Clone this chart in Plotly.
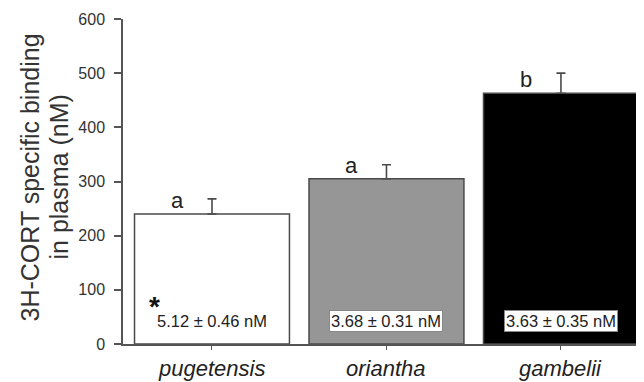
import plotly.graph_objects as go

categories = ["pugetensis", "oriantha", "gambelii"]
binding = [240, 305, 463]
binding_se = [28, 26, 37]
letters = ["a", "a", "b"]
kd_labels = ["5.12 \u00b1 0.46 nM", "3.68 \u00b1 0.31 nM", "3.63 \u00b1 0.35 nM"]
bar_colors = ["#ffffff", "#969696", "#000000"]
y_ticks = [0, 100, 200, 300, 400, 500, 600]
y_title = ["3H-CORT specific binding", "in plasma (nM)"]

xs = list(range(len(categories)))
FONT = "Liberation Sans, Arial, sans-serif"

fig = go.Figure()
fig.add_trace(go.Bar(
    x=xs, y=binding, width=0.888,
    marker=dict(color=bar_colors, line=dict(color="#4a4a4a", width=1.5)),
    error_y=dict(type="data", array=binding_se, symmetric=False, arrayminus=[0, 0, 0],
                 color="#4a4a4a", thickness=1.6, width=4.5),
    hoverinfo="skip", showlegend=False,
))

ann = []
for i, (v, l) in enumerate(zip(binding, letters)):
    ann.append(dict(x=i - 0.198, y=v, text=l, showarrow=False, xref="x", yref="y",
                    yanchor="bottom", yshift=-1, font=dict(size=22, color="#222", family=FONT)))
for i, t in enumerate(kd_labels):
    common = dict(x=i, y=42, text=t, showarrow=False, xref="x", yref="y",
                  font=dict(size=16.5, color="#222", family=FONT))
    if i == 0:
        ann.append(common)
    else:
        ann.append(dict(**common, bgcolor="#ffffff", bordercolor="#888", borderwidth=1, borderpad=1))
ann.append(dict(x=-0.33, y=70, text="<b>*</b>", showarrow=False, xref="x", yref="y",
                font=dict(size=28, color="#111", family=FONT)))
for j, (line, xpx) in enumerate(zip(y_title, [29, 58])):
    ann.append(dict(x=0, y=0.5, xref="paper", yref="paper", xanchor="center", yanchor="middle",
                    xshift=xpx - 123, yshift=4, text=line, textangle=-90, showarrow=False,
                    font=dict(size=25, color="#333", family=FONT)))
# category labels under the axis
for i, c in enumerate(categories):
    ann.append(dict(x=i, y=0, xref="x", yref="paper", xanchor="center", yanchor="middle",
                    yshift=-24, text="<i>%s</i>" % c, showarrow=False,
                    font=dict(size=22, color="#222", family=FONT)))

# the page body has an 8px margin, so the figure is sized to fill the visible window
fig.update_layout(
    width=636, height=374,
    margin=dict(l=115, r=0, t=11, b=38),
    paper_bgcolor="white", plot_bgcolor="white",
    font=dict(family=FONT, color="#333"),
    annotations=ann,
)
fig.update_xaxes(
    range=[-0.51, 2.476], tickvals=xs, showticklabels=False,
    showline=True, linecolor="#555", linewidth=1.5, ticks="outside", ticklen=4,
    tickcolor="#555", tickwidth=1,
    showgrid=False, zeroline=False, fixedrange=True,
)
fig.update_yaxes(
    range=[0, 600], tickvals=y_ticks, showline=True, linecolor="#555", linewidth=1.5,
    ticks="outside", ticklen=7, tickcolor="#555", tickwidth=1.5, ticklabelstandoff=6,
    tickfont=dict(size=16, color="#333"), showgrid=False, zeroline=False,
)
fig.write_html("out.html")
